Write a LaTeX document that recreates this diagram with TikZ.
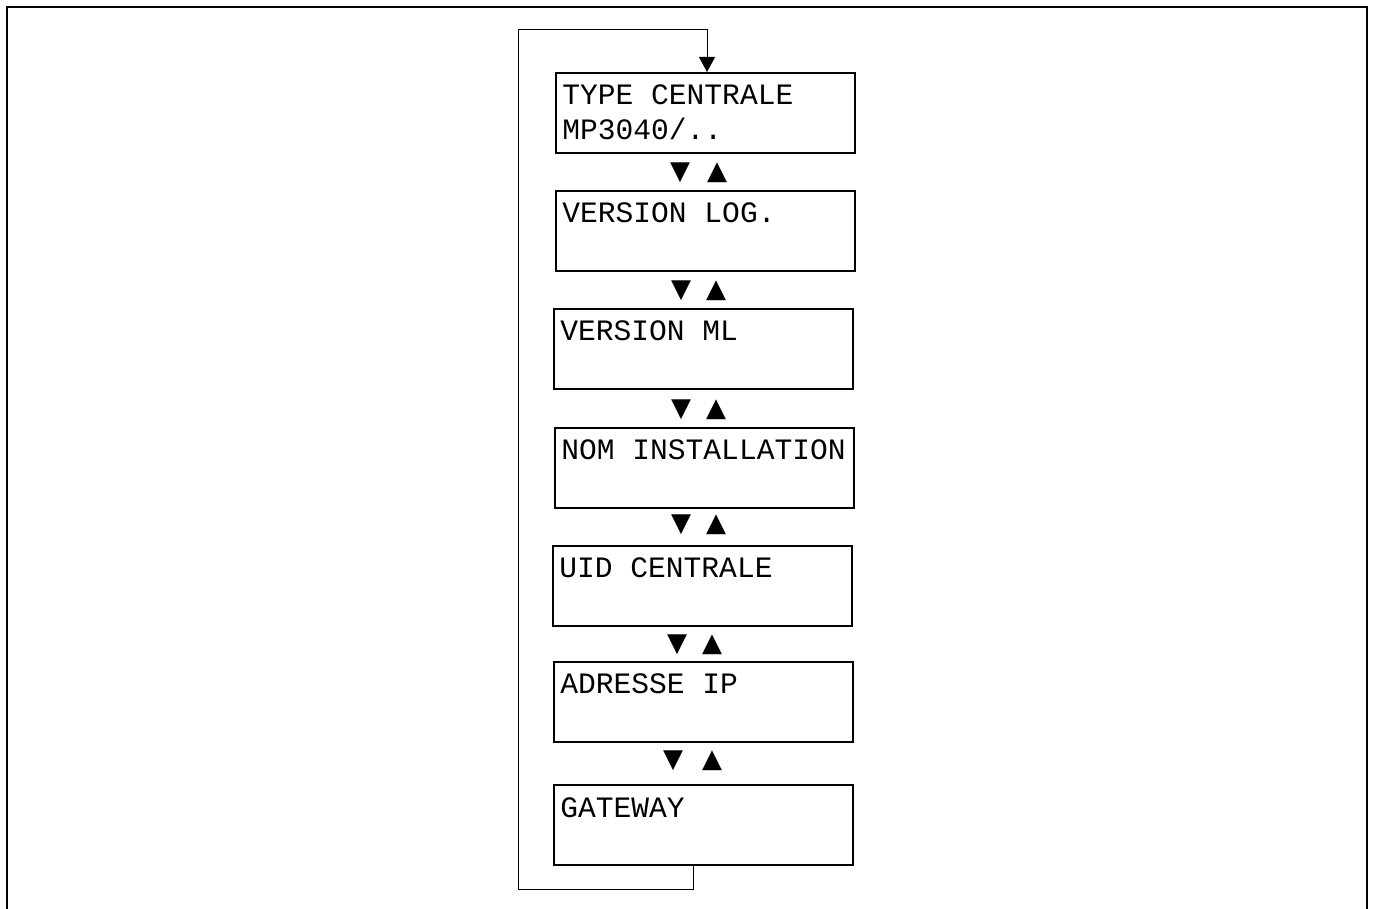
\documentclass[tikz,border=0pt]{standalone}
\usepackage{fontspec}
\setmonofont{Liberation Mono}
\newfontfamily\symfont{DejaVu Sans}
\usetikzlibrary{arrows.meta}

\tikzset{
  menubox/.style={draw, line width=1pt, minimum width=149.5pt, minimum height=40pt, anchor=north west, inner sep=0pt},
  menutext/.style={anchor=base west, inner sep=0pt, font=\ttfamily\fontsize{14.8}{17.5}\selectfont},
  key/.style={inner sep=0pt, font=\symfont\fontsize{13}{13}\selectfont},
  loopline/.style={line width=0.5pt},
}

\begin{document}
\begin{tikzpicture}[x=0.5pt, y=-0.5pt]
  \useasboundingbox (0,0) rectangle (1373,909);
  % Frame
  \draw[line width=1pt] (7,909) -- (7,7) -- (1367,7) -- (1367,909);
  % Menu boxes
  \foreach \i/\x/\y in {1/555/72, 2/555/190, 3/553/308, 4/554/427, 5/552/545, 6/553/661, 7/553/784} {
    \node[menubox] (b\i) at (\x,\y) {};
  }
  % Texts
  \node[menutext] (t1) at ([xshift=3.5pt,yshift=-16.5pt]b1.north west) {\vtop{\hbox{TYPE CENTRALE}\hbox{MP3040/..}}};
  \foreach \i/\txt in {2/VERSION LOG., 3/VERSION ML, 4/NOM INSTALLATION, 5/UID CENTRALE, 6/ADRESSE IP, 7/GATEWAY} {
    \node[menutext] (t\i) at ([xshift=3.5pt,yshift=-16.5pt]b\i.north west) {\txt};
  }
  % Keys
  \foreach \i/\xd/\xu/\y in {1/680/717/173, 2/681/716/291, 3/681/716/410, 4/681/716/525, 5/677/712/645, 6/673/712/761} {
    \node[key] (dn\i) at (\xd,\y) {▼};
    \node[key] (up\i) at (\xu,\y) {▲};
  }
  % Return loop
  \coordinate (bottomleft) at (518,889);
  \coordinate (topleft) at (518,30);
  \draw[loopline, -{Triangle[width=8pt,length=7.5pt]}] ([xshift=-5.25pt]b7.south) |- (bottomleft) -- (topleft) -| ([xshift=0.75pt]b1.north);
\end{tikzpicture}
\end{document}
